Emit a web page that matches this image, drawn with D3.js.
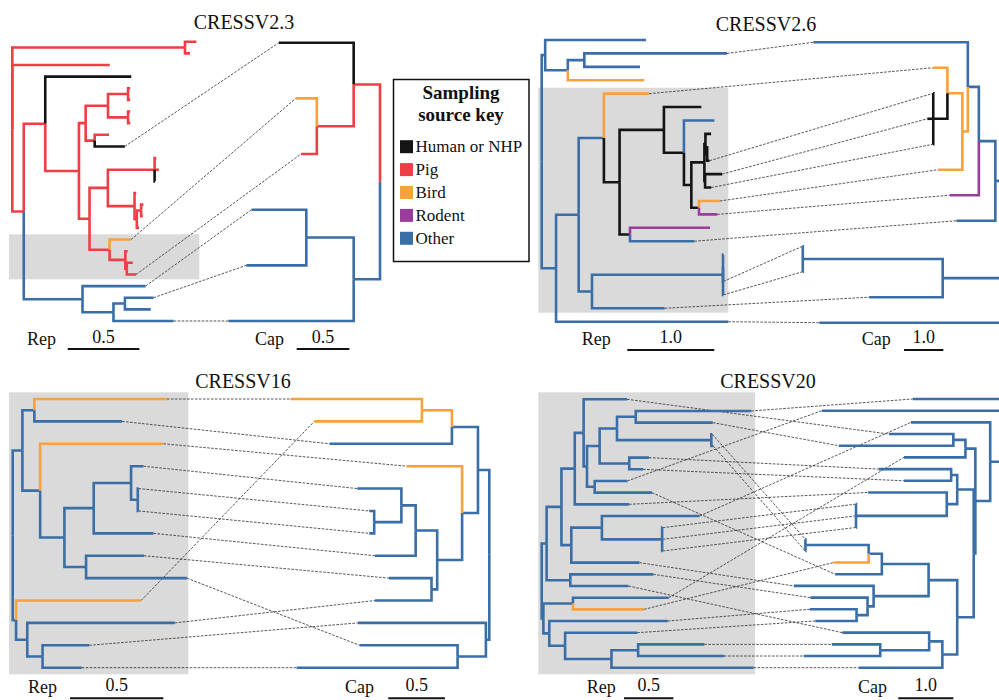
<!DOCTYPE html>
<html>
<head>
<meta charset="utf-8">
<script src="https://cdn.jsdelivr.net/npm/d3@7"></script>
<style>
  body { margin: 0; background: #fff; }
  svg { display: block; }
  text { font-family: "Liberation Serif", "Times New Roman", Times, serif; }
</style>
</head>
<body>
<svg width="999" height="700" font-family="Liberation Serif, Times New Roman, serif"></svg>
<script>
// ---- data -----------------------------------------------------------------
// trees are newick strings, branch lengths in substitutions/site,
// "#x" = sampling source of that branch (inherited by children when absent)
const panelTitles = ['CRESSV2.3', 'CRESSV2.6', 'CRESSV16', 'CRESSV20'];

const repTrees = [
  `((:0.08,:0.035):1.205,:0.68,
    ((:0.6#k,((((:0.015,:0.015):0.14,(:0.015,:0.015):0.14):0.156,(:0.1,k10:0.21#k):0.063):0.047,
      (((:0.012,:0.03,:0.003#k):0.326,(:0.012,((:0.016,:0.012):0.03,:0.015):0.016):0.186):0.128,
       (o18:0.15#o,(:0.016,(:0.042,r21:0.065):0.01):0.11):0.14):0.074):0.235):0.15,
     (b22:0.44,((b23:0.2,:0.18):0.08,b25:0.42):0.216):0.41#b):0.08)`,
  `((:1.16,((a2:1.64,:0.64):0.19,:0.88#o):0.26):0.04,
    (((a5:0.52#o,((:0.43,(:0.35#b,
        (((:0.065,(:0.015,a10:0.027):0.02):0.012,(a11:0.195,a12:0.07):0.008):0.15,
         (a13:0.24#o,a14:0.21#p):0.088):0.085):0.23):0.51,
       (:0.92#p,a16:0.74#b):0.12):0.18#k):0.29,
      ((:0.005,:0.005,a19:0.005,a20:0.005):1.506,a21:0.835):0.153):0.26,
     a22:1.98):0.165)`,
  `(((d1:0.71#o,d2:0.47):0.064,
     (d3:0.66#o,(((d4:0.066,(d5:0.004,d6:0.004):0.036):0.2,d7:0.32):0.157,(d8:0.31,d9:0.54):0.116):0.13):0.095):0.052,
    (d10:0.67#o,(d11:0.79,(d12:0.25,d13:0.21):0.082):0.06):0.018)`,
  `((((((f1:0.44,((((f2:1.17,f3:0.78):0.19,(f4:0.01,f5:0.02):0.956):0.176,(f6:0.2,f7:0.14):0.3):0.128,
         (f8:0.33,f9:0.58):0.078):0.034):0.09,f10:0.55):0.135,
       ((f11:0.99,(f12:0.005,f13:0.005,f14:0.005):0.61):0.31,f15:0.69):0.1):0.15,
      (f16:0.84,f17:0.59):0.24):0.05,
    ((f18:0.97,f19:0.72#o):0.3,(f20:1.2,(f21:0.73,((f22:0.67,f23:0.87):0.27,f24:1.44):0.47):0.16):0.06):0.017)`
];

const capTrees = [
  `((k1:0.71#k,(o2:0.2#o,r3:0.15):0.35):0.25,((b4:0.52,b5:0.57):0.45,b6:1.19):0.25#b)`,
  `((((c1:3.93,((c2:0.38,(c3:0.005,c4:0.15,c5:0.005):0.36#k):0.38,c6:0.62):0.14#o):0.28,c7:0.74#p):0.42,c8:0.99):0.5,
    (((c9:0.005,c10:0.005):3.56,c11:1.87):1.71,c12:4.85):0.13)`,
  `((((e1:1.16,e2:0.95):0.265#o,e3:1.08):0.23,
     (e4:0.49#o,(((e5:0.39,(e6:0.044,e7:0.044):0.24):0.126,e8:0.36):0.19,(e9:0.376,e10:0.5):0.05):0.22):0.14):0.1,
    (e11:1.13,(e12:0.865,e13:1.42):0.25):0.03)`,
  `((g1:1.71,g2:3.36):0.12,
    (g3:1.44,(((g4:1.17,g5:2.08):0.22,g6:1.12):0.18,
      (((g7:1.32,g8:0.86):0.11,(g9:1.43,(g10:0.003,g11:0.003,g12:0.003):1.65):0.19):0.3,
       (((((g13:0.003,g14:0.003):1.15,g15:0.64#o):0.24,g16:0.85):0.85,
         (g17:1.45,(g18:1.04,(g19:0.85,g20:0.75):0.2):0.11):1.0):0.52,
        ((g21:1.58,(g22:0.88,g23:1.39):0.89):0.24,g24:1.52):0.27):0.3):0.03):0.27):0.42)`
];

const repRootSource = ['r', 'b', 'b', 'b'];
const capRootSource = ['r', 'b', 'b', 'b'];

const tipLinks = [
  'k10-k1 o18-o2 r21-r3 b22-b4 b23-b5 b25-b6',
  'a2-c1 a5-c2 a10-c3 a11-c4 a12-c5 a13-c6 a14-c7 a16-c8 a19-c9 a20-c10 a21-c11 a22-c12',
  'd1-e1 d2-e3 d3-e4 d4-e5 d5-e6 d6-e7 d7-e8 d8-e9 d9-e12 d10-e2 d11-e10 d12-e11 d13-e13',
  'f1-g4 f2-g1 f3-g5 f4-g13 f5-g14 f6-g7 f7-g8 f8-g2 f9-g16 f10-g9 f11-g3 f12-g10 f13-g11 ' +
  'f14-g12 f15-g17 f16-g18 f17-g21 f18-g6 f19-g15 f20-g19 f21-g20 f22-g22 f23-g23 f24-g24'
].map(s => s.split(' ').map(p => p.split('-')));

const repScaleBar = [0.5, 1.0, 0.5, 0.5];
const capScaleBar = [0.5, 1.0, 0.5, 1.0];

const sourceLabels = ['Human or NHP', 'Pig', 'Bird', 'Rodent', 'Other'];
const sourceCodes = ['k', 'r', 'o', 'p', 'b'];

// ---- look -----------------------------------------------------------------
const colour = { k: '#141414', r: '#ef3e45', o: '#f8a13f', p: '#9a3c9c', b: '#3a6ea6' };
const serif = 'Liberation Serif, Times New Roman, serif';

const layout = [
  { rep: { x0: 12.3, ppu: 143.3, y: [41.7, 321] }, cap: { x0: 380, ppu: 105.3, y: [42.7, 321] },
    shade: [9, 234.3, 199.3, 279.3], title: [244, 29],
    bar: { rep: 67.7, cap: 296.7, y: 349 }, lab: { rep: 27, cap: 255, y: 345 } },
  { rep: { x0: 541.7, ppu: 87, y: [40, 321.7] }, cap: { x0: 1015, ppu: 39.3, y: [42.3, 322.7] },
    shade: [538.3, 87.7, 728.3, 312.7], title: [766, 30.5],
    bar: { rep: 627.3, cap: 904, y: 350 }, lab: { rep: 581.7, cap: 861.7, y: 345 } },
  { rep: { x0: 12.7, ppu: 186.7, y: [399, 667.7] }, cap: { x0: 489.3, ppu: 113.3, y: [399, 667.7] },
    shade: [9, 392.3, 188.3, 674.3], title: [243, 388],
    bar: { rep: 70, cap: 388.3, y: 698.3 }, lab: { rep: 28, cap: 345, y: 692.5 } },
  { rep: { x0: 541.7, ppu: 98.7, y: [399.3, 667.7] }, cap: { x0: 1013.3, ppu: 55, y: [399, 667.7] },
    shade: [538.3, 392.3, 755, 674.3], title: [768, 388],
    bar: { rep: 624, cap: 898.3, y: 698.3 }, lab: { rep: 586.7, cap: 858, y: 692.5 } }
];

// ---- helpers --------------------------------------------------------------
function parseNewick(str) {
  const s = str.replace(/\s+/g, '');
  let i = 0;
  function node() {
    const n = { name: '', len: 0, src: null, children: null };
    if (s[i] === '(') {
      i++;
      n.children = [];
      do { n.children.push(node()); } while (s[i++] === ',');
    }
    const m = /^(\w*)(?::([\d.]+))?(?:#(\w))?/.exec(s.slice(i));
    n.name = m[1];
    n.len = m[2] ? +m[2] : 0;
    n.src = m[3] || null;
    i += m[0].length;
    return n;
  }
  return node();
}

function layoutTree(str, rootSrc, opt, dir) {
  const root = d3.hierarchy(parseNewick(str), d => d.children);
  root.eachBefore(n => {
    n.dist = n.parent ? n.parent.dist + n.data.len : 0;
    n.src = n.data.src || (n.parent ? n.parent.src : rootSrc);
  });
  const leaves = root.leaves();
  const y = d3.scalePoint().domain(d3.range(leaves.length)).range(opt.y);
  leaves.forEach((l, k) => { l.y = y(k); });
  root.eachAfter(n => {
    if (n.children) n.y = (n.children[0].y + n.children[n.children.length - 1].y) / 2;
  });
  const x = d3.scaleLinear().domain([0, 1]).range([opt.x0, opt.x0 + dir * opt.ppu]);
  root.each(n => { n.x = x(n.dist); });
  return { root, x };
}

// ---- draw -----------------------------------------------------------------
const svg = d3.select('svg');

layout.forEach((L, i) => {
  const g = svg.append('g').attr('class', 'panel');
  const rep = layoutTree(repTrees[i], repRootSource[i], L.rep, 1);
  const cap = layoutTree(capTrees[i], capRootSource[i], L.cap, -1);
  const repTip = new Map(rep.root.leaves().map(d => [d.data.name, d]));
  const capTip = new Map(cap.root.leaves().map(d => [d.data.name, d]));

  g.append('rect')
    .attr('x', L.shade[0]).attr('y', L.shade[1])
    .attr('width', L.shade[2] - L.shade[0]).attr('height', L.shade[3] - L.shade[1])
    .attr('fill', '#dadada');

  g.append('g').selectAll('line').data(tipLinks[i]).join('line')
    .attr('x1', d => repTip.get(d[0]).x).attr('y1', d => repTip.get(d[0]).y)
    .attr('x2', d => capTip.get(d[1]).x).attr('y2', d => capTip.get(d[1]).y)
    .attr('stroke', '#222').attr('stroke-width', 0.9)
    .attr('stroke-dasharray', '2.6,1.4').attr('opacity', 0.85);

  [rep, cap].forEach(t => {
    g.append('g').selectAll('path').data(t.root.descendants().filter(d => d.parent)).join('path')
      .attr('d', d => `M${d.parent.x},${d.parent.y}V${d.y}H${d.x}`)
      .attr('fill', 'none')
      .attr('stroke', d => colour[d.src])
      .attr('stroke-width', 2.6)
      .attr('stroke-linejoin', 'miter');
  });

  g.append('text')
    .attr('x', L.title[0]).attr('y', L.title[1])
    .attr('text-anchor', 'middle').attr('font-family', serif)
    .attr('font-size', 20).attr('fill', '#111')
    .text(panelTitles[i]);

  // scale bars
  [['rep', rep, repScaleBar[i], 'Rep'], ['cap', cap, capScaleBar[i], 'Cap']].forEach(([k, t, v, lab]) => {
    const len = Math.abs(t.x(v) - t.x(0));
    const x0 = L.bar[k];
    g.append('line')
      .attr('x1', x0).attr('x2', x0 + len).attr('y1', L.bar.y).attr('y2', L.bar.y)
      .attr('stroke', '#111').attr('stroke-width', 2);
    g.append('text')
      .attr('x', x0 + len / 2).attr('y', L.lab.y - 2)
      .attr('text-anchor', 'middle').attr('font-family', serif)
      .attr('font-size', 18).attr('fill', '#111')
      .text(d3.format('.1f')(v));
    g.append('text')
      .attr('x', L.lab[k]).attr('y', L.lab.y)
      .attr('font-family', serif).attr('font-size', 18).attr('fill', '#111')
      .text(lab);
  });
});

// legend
const key = svg.append('g').attr('class', 'legend');
key.append('rect')
  .attr('x', 393.5).attr('y', 79.5).attr('width', 135.5).attr('height', 182)
  .attr('fill', '#fff').attr('stroke', '#111').attr('stroke-width', 1.5);
key.selectAll('.head').data(['Sampling', 'source key']).join('text').attr('class', 'head')
  .attr('x', 461).attr('y', (d, k) => 99 + k * 22)
  .attr('text-anchor', 'middle').attr('font-family', serif)
  .attr('font-size', 19).attr('font-weight', 'bold').attr('fill', '#111')
  .text(d => d);
key.selectAll('.row').data(sourceLabels).join('g').attr('class', 'row')
  .attr('transform', (d, k) => `translate(400,${146.7 + k * 22.9})`)
  .call(row => {
    row.append('rect')
      .attr('x', 0).attr('y', -6.5).attr('width', 13).attr('height', 13)
      .attr('fill', (d, k) => colour[sourceCodes[k]]);
    row.append('text')
      .attr('x', 15.5).attr('y', 5.5)
      .attr('font-family', serif).attr('font-size', 17).attr('fill', '#111')
      .text(d => d);
  });
</script>
</body>
</html>
